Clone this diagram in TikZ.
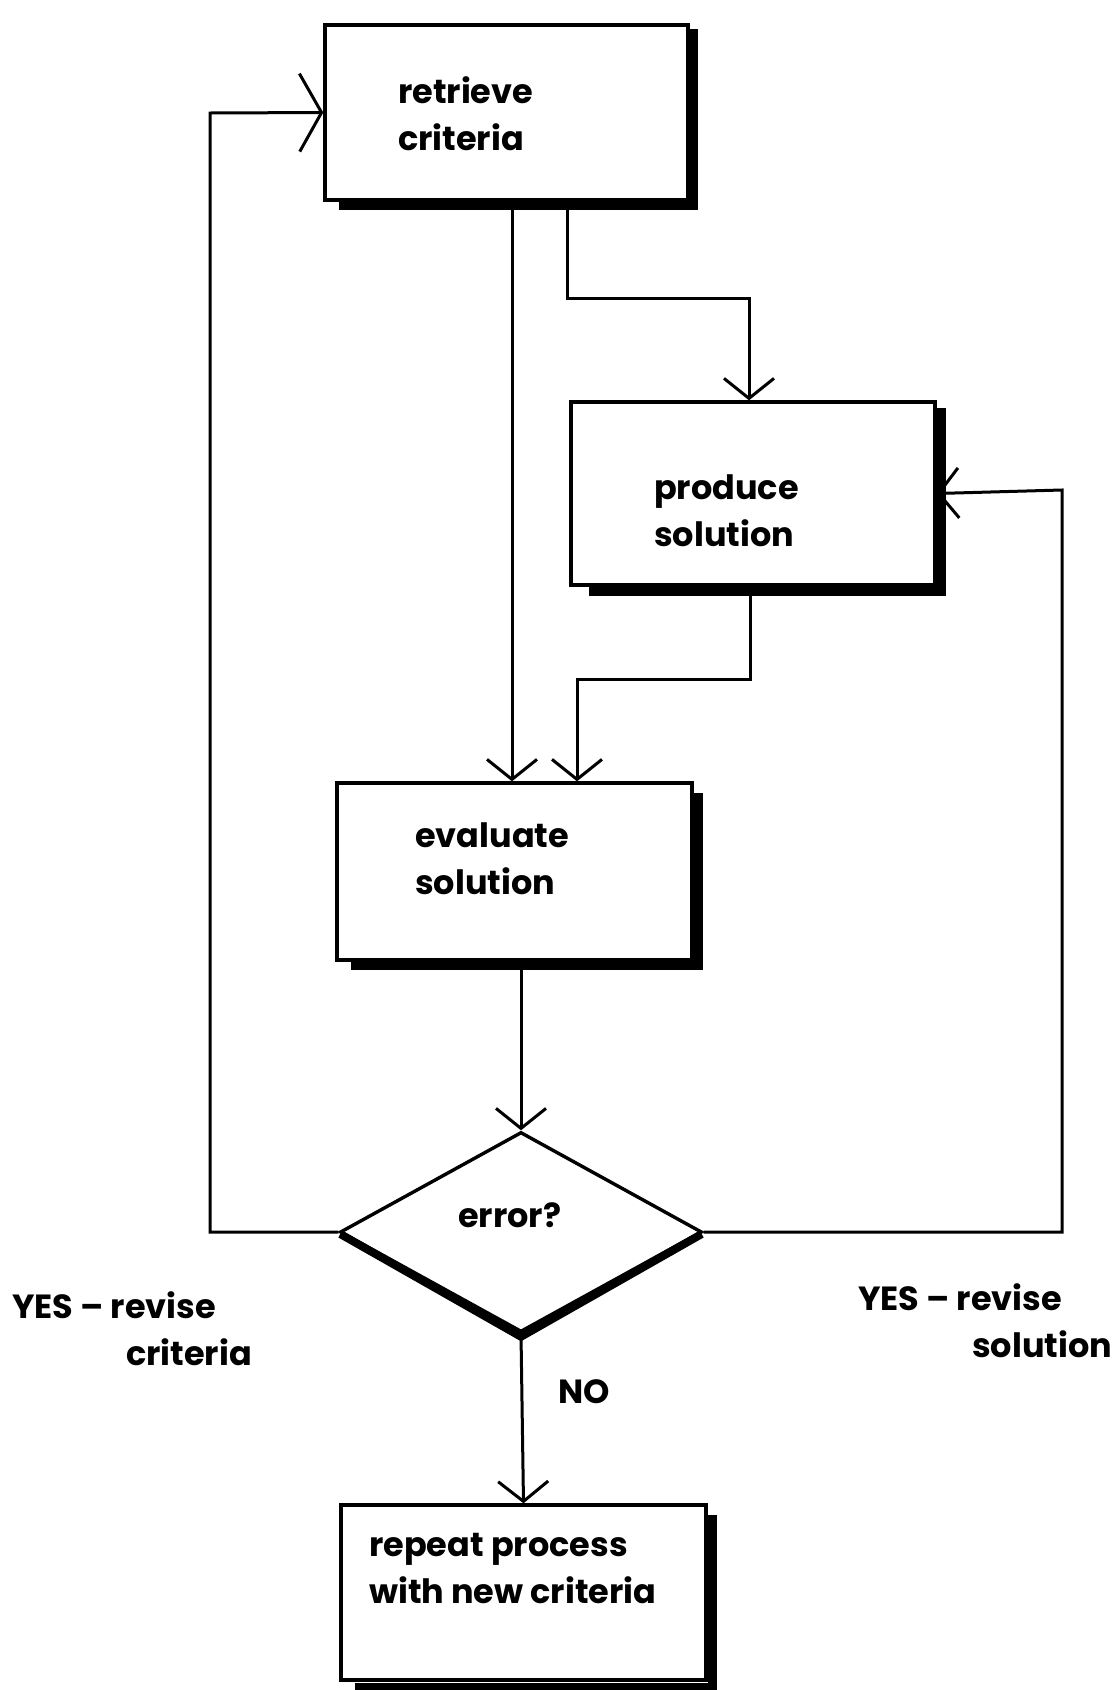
\documentclass[tikz,border=0pt]{standalone}
\usepackage{fontspec}
\setmainfont{Poppins}
\usetikzlibrary{arrows.meta,shapes.geometric}
\begin{document}
\begin{tikzpicture}[x=1pt,y=-1pt,
  box/.style={draw,line width=3.4pt,rectangle,inner sep=0pt},
  shade/.style={line width=9pt,line join=miter,line cap=butt},
  conn/.style={line width=3pt,-{Straight Barb[length=20pt,width=50pt,line width=3pt]}},
  connwide/.style={line width=3pt,-{Straight Barb[length=22pt,width=78pt,line width=3pt]}},
  txt/.style={font=\bfseries\fontsize{33.5}{47}\selectfont,align=left,inner sep=0pt,anchor=west},
]
\useasboundingbox (0,0) rectangle (1113,1690);
\fill[white] (0,0) rectangle (1113,1690);

% boxes
\node[box,minimum width=363pt,minimum height=175pt] (b1) at (506.5,112.5) {};
\node[box,minimum width=364pt,minimum height=183pt] (p) at (753,493.5) {};
\node[box,minimum width=355pt,minimum height=177pt] (e) at (514.5,871.5) {};
\node[draw,line width=3.4pt,diamond,inner sep=0pt,minimum width=362pt,minimum height=200pt] (d) at (521,1232) {};
\node[box,minimum width=365pt,minimum height=175pt] (r) at (523.5,1592.5) {};

% heavy shadow edges
\draw[shade] ([shift={(4,6)}]b1.north east) -- ([shift={(4,4)}]b1.south east) -- ([shift={(16,4)}]b1.south west);
\draw[shade] ([shift={(5,8)}]p.north east) -- ([shift={(5,5)}]p.south east) -- ([shift={(20,5)}]p.south west);
\draw[shade] ([shift={(5,12)}]e.north east) -- ([shift={(5,4)}]e.south east) -- ([shift={(16,4)}]e.south west);
\draw[shade] ([shift={(5,12)}]r.north east) -- ([shift={(5,6)}]r.south east) -- ([shift={(16,6)}]r.south west);
\draw[line width=8pt,line join=miter] ([shift={(2,2)}]d.west) -- ([shift={(0,3)}]d.south) -- ([shift={(-2,2)}]d.east);

% texts
\node[txt] (t1) at (398,114) {retrieve\\criteria};
\node[txt] (t2) at (654,511) {produce\\solution};
\node[txt] (t3) at (415,859) {evaluate\\solution};
\node[txt] (t4) at (458,1215) {error?};
\node[txt] (t5) at (369,1568) {repeat process\\with new criteria};
\node[txt] (l1) at (12,1329) {YES -- revise\\\hspace*{114pt}criteria};
\node[txt] (l2) at (858,1321) {YES -- revise\\\hspace*{114pt}solution};
\node[txt] (l3) at (558,1392) {NO};

% connector corners
\coordinate (c1) at (512,0);
\coordinate (c2a) at (567,298);
\coordinate (c2b) at (749,298);
\coordinate (c3a) at (750,679);
\coordinate (c3b) at (577,679);
\coordinate (lc) at (210,113);
\coordinate (rc) at (1062,490);

% connectors
\draw[conn] (b1.south -| c1) -- (e.north -| c1);
\draw[conn] (b1.south -| c2a) -- (c2a) -- (c2b) -- (c2b |- p.north);
\draw[conn] (p.south -| c3a) -- (c3a) -- (c3b) -- (e.north -| c3b);
\draw[conn] (e.south -| d.north) -- (d.north);
\draw[connwide] (d.west) -| (lc) -- (b1.west);
\draw[conn] (d.east) -| (rc) -- (p.east);
\draw[conn] (d.south) -- (r.north);
\end{tikzpicture}
\end{document}
